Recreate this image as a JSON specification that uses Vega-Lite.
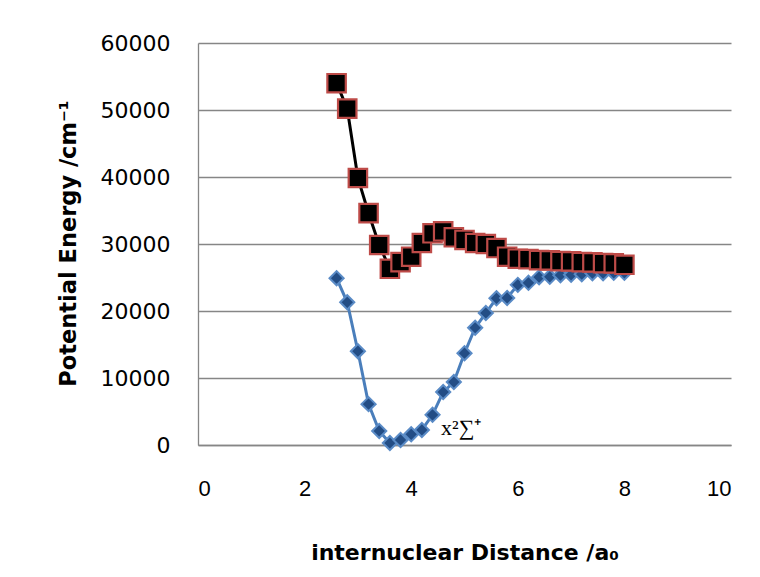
{
  "$schema": "https://vega.github.io/schema/vega-lite/v6.json",
  "width": 533,
  "height": 402,
  "autosize": {"type": "none"},
  "padding": {"left": 198, "top": 43, "right": 29, "bottom": 132},
  "background": "white",
  "config": {
    "view": {"stroke": null},
    "axis": {
      "labelFont": "DejaVu Sans",
      "labelFontSize": 22,
      "labelColor": "#000000",
      "titleFont": "DejaVu Sans",
      "titleFontSize": 22,
      "titleFontWeight": "bold",
      "titleColor": "#000000",
      "ticks": false,
      "domainColor": "#868686",
      "domainWidth": 1.3,
      "gridColor": "#868686",
      "gridWidth": 1.3
    }
  },
  "data": {
    "values": [
      {"r": 2.6, "ground": 24900, "excited": 54000},
      {"r": 2.8, "ground": 21300, "excited": 50200},
      {"r": 3.0, "ground": 14000, "excited": 39850},
      {"r": 3.2, "ground": 6100, "excited": 34600},
      {"r": 3.4, "ground": 2100, "excited": 29850},
      {"r": 3.6, "ground": 300, "excited": 26300},
      {"r": 3.8, "ground": 750, "excited": 27300},
      {"r": 4.0, "ground": 1600, "excited": 28100},
      {"r": 4.2, "ground": 2250, "excited": 30150},
      {"r": 4.4, "ground": 4500, "excited": 31600},
      {"r": 4.6, "ground": 7900, "excited": 31900},
      {"r": 4.8, "ground": 9400, "excited": 31000},
      {"r": 5.0, "ground": 13700, "excited": 30600},
      {"r": 5.2, "ground": 17500, "excited": 30150},
      {"r": 5.4, "ground": 19700, "excited": 30000},
      {"r": 5.6, "ground": 21900, "excited": 29400},
      {"r": 5.8, "ground": 21950, "excited": 28100},
      {"r": 6.0, "ground": 23900, "excited": 27800},
      {"r": 6.2, "ground": 24200, "excited": 27750},
      {"r": 6.4, "ground": 25050, "excited": 27600},
      {"r": 6.6, "ground": 25100, "excited": 27550},
      {"r": 6.8, "ground": 25350, "excited": 27450},
      {"r": 7.0, "ground": 25400, "excited": 27400},
      {"r": 7.2, "ground": 25500, "excited": 27300},
      {"r": 7.4, "ground": 25650, "excited": 27250},
      {"r": 7.6, "ground": 25650, "excited": 27150},
      {"r": 7.8, "ground": 25700, "excited": 27100},
      {"r": 8.0, "ground": 25700, "excited": 26900}
    ]
  },
  "encoding": {
    "x": {
      "field": "r",
      "type": "quantitative",
      "scale": {"domain": [0, 10], "nice": false},
      "axis": {
        "title": "internuclear Distance /a₀",
        "values": [0, 2, 4, 6, 8, 10],
        "format": "d",
        "grid": false,
        "labelFont": "Liberation Sans",
        "labelFontSize": 22,
        "labelPadding": 33,
        "titleY": 107,
        "titleBaseline": "middle"
      }
    }
  },
  "layer": [
    {
      "mark": {"type": "line", "color": "#4a7ebb", "strokeWidth": 3},
      "encoding": {
        "y": {
          "field": "ground",
          "type": "quantitative",
          "scale": {"domain": [0, 60000], "nice": false},
          "axis": {
            "title": "Potential Energy /cm⁻¹",
            "values": [0, 10000, 20000, 30000, 40000, 50000, 60000],
            "format": "d",
            "labelPadding": 28,
            "titleFontSize": 22.5,
            "titleX": -130,
            "titleY": 200,
            "titleBaseline": "middle",
            "titleAngle": -90
          }
        }
      }
    },
    {
      "mark": {"type": "point", "shape": "diamond", "filled": true, "size": 200, "fill": "#234d85", "stroke": "#5a8bc6", "strokeWidth": 2, "opacity": 1},
      "encoding": {"y": {"field": "ground", "type": "quantitative"}}
    },
    {
      "mark": {"type": "line", "color": "#000000", "strokeWidth": 3},
      "encoding": {"y": {"field": "excited", "type": "quantitative"}}
    },
    {
      "mark": {"type": "point", "shape": "square", "filled": true, "size": 340, "fill": "#000000", "stroke": "#be4b48", "strokeWidth": 2.2, "opacity": 1},
      "encoding": {"y": {"field": "excited", "type": "quantitative"}}
    },
    {
      "data": {"values": [{"r": 4.56, "e": 1500, "label": "x²∑⁺"}]},
      "mark": {"type": "text", "align": "left", "baseline": "alphabetic", "font": "Liberation Serif", "fontSize": 22, "color": "#000000"},
      "encoding": {
        "x": {"field": "r", "type": "quantitative"},
        "y": {"field": "e", "type": "quantitative"},
        "text": {"field": "label"}
      }
    }
  ]
}
